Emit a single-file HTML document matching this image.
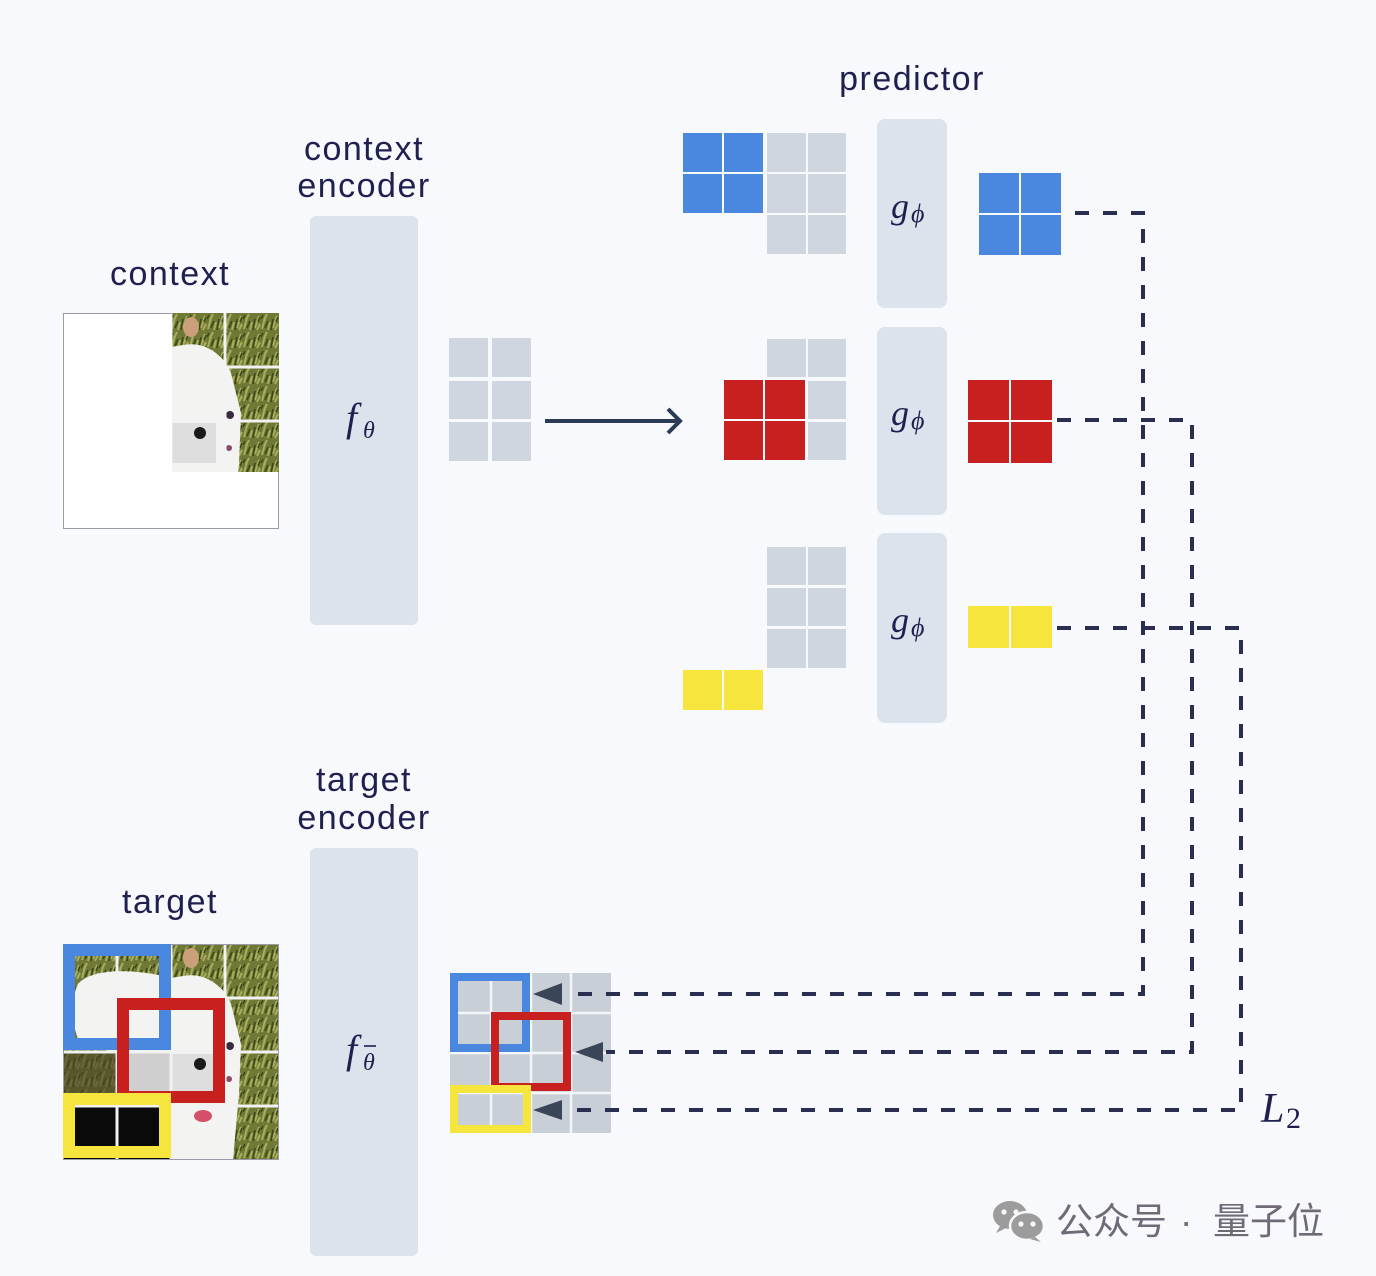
<!DOCTYPE html>
<html><head><meta charset="utf-8"><style>
html,body{margin:0;padding:0;background:#f7f9fc;}
svg{display:block;}
.lbl{font-family:"Liberation Sans","DejaVu Sans",sans-serif;font-size:34px;fill:#1f2050;letter-spacing:1.5px;text-anchor:middle;}
.m{font-family:"Liberation Serif","DejaVu Serif",serif;font-style:italic;fill:#1f2050;}
.wm{font-family:"Liberation Sans","Noto Sans CJK SC",sans-serif;font-size:37px;fill:#6f6a78;}
</style></head><body>
<svg width="1376" height="1276" viewBox="0 0 1376 1276" xmlns="http://www.w3.org/2000/svg">
<defs>
<pattern id="grass" width="18" height="18" patternUnits="userSpaceOnUse">
<rect width="18" height="18" fill="#6f7935"/>
<path d="M1 16 L4 5 M7 17 L9 9 M12 15 L16 3 M3 7 L6 1 M14 17 L17 11" stroke="#a9ae5e" stroke-width="2"/>
<path d="M4 15 L7 8 M10 17 L12 6 M15 9 L17 4 M0 6 L2 2" stroke="#3d4819" stroke-width="1.6"/>
</pattern>
<g id="dog">
<rect x="0" y="0" width="216" height="216" fill="url(#grass)"/>
<path d="M15 40 C30 22 80 26 108 34 L120 32 C140 28 160 40 168 60 L178 100 L176 150 L170 216 L108 216 L108 160 L60 152 L55 108 L18 102 C8 82 8 56 15 40 Z" fill="#f3f3f1"/>
<rect x="0" y="108" width="54" height="54" fill="#4a4426"/>
<rect x="0" y="108" width="54" height="54" fill="url(#grass)" opacity="0.35"/>
<rect x="64" y="108" width="44" height="44" fill="#cfcfcf"/>
<rect x="108" y="110" width="45" height="40" fill="#dedede"/>
<ellipse cx="128" cy="14" rx="8" ry="10" fill="#c9a07a"/>
<circle cx="137" cy="120" r="6" fill="#1a1a1a"/>
<circle cx="167" cy="102" r="4" fill="#3a2a40"/>
<ellipse cx="140" cy="172" rx="9" ry="6" fill="#d4506a"/>
<circle cx="166" cy="135" r="3" fill="#8a4a6a"/>
<rect x="0" y="162" width="108" height="54" fill="#0a0a0a"/>
<path d="M54 0 V216 M108 0 V216 M162 0 V216 M0 54 H216 M0 108 H216 M0 162 H216" stroke="#f2f2f2" stroke-width="3"/>
</g>
<clipPath id="ctxclip"><rect x="109" y="0" width="107" height="159"/></clipPath>
</defs>

<rect width="1376" height="1276" fill="#f7f9fc"/>

<!-- labels -->
<text class="lbl" x="912" y="90">predictor</text>
<text class="lbl" x="364" y="160">context</text>
<text class="lbl" x="364" y="197">encoder</text>
<text class="lbl" x="170" y="285">context</text>
<text class="lbl" x="364" y="791">target</text>
<text class="lbl" x="364" y="829">encoder</text>
<text class="lbl" x="170" y="913">target</text>

<!-- context image -->
<rect x="63.5" y="313.5" width="215" height="215" fill="#ffffff" stroke="#9a9aa8" stroke-width="1"/>
<g transform="translate(63,313)" clip-path="url(#ctxclip)"><use href="#dog"/></g>

<!-- target image -->
<g transform="translate(63,944)"><use href="#dog"/></g>
<rect x="63.5" y="944.5" width="215" height="215" fill="none" stroke="#9a9aa8" stroke-width="1"/>
<rect x="69" y="950" width="96" height="94" fill="none" stroke="#4a87df" stroke-width="12"/>
<rect x="123" y="1004" width="96" height="93" fill="none" stroke="#c8201f" stroke-width="12"/>
<rect x="69" y="1099" width="96" height="53" fill="none" stroke="#f6e53c" stroke-width="12"/>

<!-- encoders -->
<rect x="310" y="216" width="108" height="409" rx="6" fill="#dde3ec"/>
<rect x="310" y="848" width="108" height="408" rx="6" fill="#dde3ec"/>
<text class="m" x="346" y="431" font-size="40">f</text>
<text class="m" x="363" y="438" font-size="24">θ</text>
<text class="m" x="346" y="1063" font-size="40">f</text>
<text class="m" x="363" y="1070" font-size="24">θ</text>
<line x1="364" y1="1046" x2="376" y2="1046" stroke="#1f2050" stroke-width="1.6"/>

<!-- middle context embeddings -->
<g fill="#cfd6df">
<rect x="449" y="338" width="39" height="39"/><rect x="492" y="338" width="39" height="39"/>
<rect x="449" y="381" width="39" height="38"/><rect x="492" y="381" width="39" height="38"/>
<rect x="449" y="422" width="39" height="39"/><rect x="492" y="422" width="39" height="39"/>
</g>
<line x1="545" y1="421" x2="677" y2="421" stroke="#2b3a55" stroke-width="4"/>
<polyline points="668,409 680,421 668,433" fill="none" stroke="#2b3a55" stroke-width="4" stroke-linejoin="miter"/>

<!-- predictor boxes -->
<rect x="877" y="119" width="70" height="189" rx="8" fill="#dde3ec"/>
<rect x="877" y="327" width="70" height="188" rx="8" fill="#dde3ec"/>
<rect x="877" y="533" width="70" height="190" rx="8" fill="#dde3ec"/>
<text class="m" x="891" y="218" font-size="36">g</text><text class="m" x="911" y="222" font-size="26">ϕ</text>
<text class="m" x="891" y="425" font-size="36">g</text><text class="m" x="911" y="429" font-size="26">ϕ</text>
<text class="m" x="891" y="632" font-size="36">g</text><text class="m" x="911" y="636" font-size="26">ϕ</text>

<!-- row 1 -->
<g fill="#4a87df">
<rect x="683" y="133" width="39" height="39"/><rect x="724" y="133" width="39" height="39"/>
<rect x="683" y="174" width="39" height="39"/><rect x="724" y="174" width="39" height="39"/>
<rect x="979" y="173" width="40" height="40"/><rect x="1021" y="173" width="40" height="40"/>
<rect x="979" y="215" width="40" height="40"/><rect x="1021" y="215" width="40" height="40"/>
</g>
<g fill="#cfd6df">
<rect x="767" y="133" width="39" height="39"/><rect x="808" y="133" width="38" height="39"/>
<rect x="767" y="174" width="39" height="39"/><rect x="808" y="174" width="38" height="39"/>
<rect x="767" y="215" width="39" height="39"/><rect x="808" y="215" width="38" height="39"/>
</g>

<!-- row 2 -->
<g fill="#cfd6df">
<rect x="767" y="339" width="39" height="38"/><rect x="808" y="339" width="38" height="38"/>
<rect x="808" y="381" width="38" height="38"/><rect x="808" y="422" width="38" height="38"/>
</g>
<g fill="#c8201f">
<rect x="724" y="380" width="39" height="39"/><rect x="765" y="380" width="40" height="39"/>
<rect x="724" y="421" width="39" height="39"/><rect x="765" y="421" width="40" height="39"/>
<rect x="968" y="380" width="41" height="40"/><rect x="1011" y="380" width="41" height="40"/>
<rect x="968" y="422" width="41" height="41"/><rect x="1011" y="422" width="41" height="41"/>
</g>

<!-- row 3 -->
<g fill="#cfd6df">
<rect x="767" y="547" width="39" height="38"/><rect x="808" y="547" width="38" height="38"/>
<rect x="767" y="588" width="39" height="38"/><rect x="808" y="588" width="38" height="38"/>
<rect x="767" y="629" width="39" height="39"/><rect x="808" y="629" width="38" height="39"/>
</g>
<g fill="#f6e53c">
<rect x="683" y="670" width="39" height="40"/><rect x="724" y="670" width="39" height="40"/>
<rect x="968" y="606" width="41" height="42"/><rect x="1011" y="606" width="41" height="42"/>
</g>

<!-- target embedding grid -->
<rect x="450" y="973" width="161" height="160" fill="#c9cfd7"/>
<path d="M491 973 V1133 M531 973 V1133 M571 973 V1133 M450 1013 H611 M450 1053 H611 M450 1093 H611" stroke="#f4f6f9" stroke-width="2.5"/>
<rect x="454" y="977" width="72" height="71" fill="none" stroke="#4a87df" stroke-width="8"/>
<rect x="495" y="1016" width="72" height="71" fill="none" stroke="#c8201f" stroke-width="8"/>
<rect x="454" y="1089" width="73" height="40" fill="none" stroke="#f6e53c" stroke-width="8"/>
<g fill="#3a4658">
<polygon points="533,994 562,983 562,1005"/>
<polygon points="575,1052 603,1042 603,1062"/>
<polygon points="533,1110 562,1100 562,1120"/>
</g>

<!-- dashed connectors -->
<g fill="none" stroke="#2a2f52" stroke-width="4" stroke-dasharray="14 14">
<path d="M1075 213 H1143 V994 H566"/>
<path d="M1057 420 H1192 V1052 H606"/>
<path d="M1057 628 H1241 V1110 H566"/>
</g>
<text class="m" x="1261" y="1122" font-size="42">L</text>
<text x="1286" y="1128" font-size="30" font-family="Liberation Serif, serif" fill="#1f2050">2</text>

<!-- watermark -->
<g>
<ellipse cx="1010" cy="1215" rx="17" ry="14" fill="#9c9c9c"/>
<circle cx="1004" cy="1212" r="2.6" fill="#f7f9fc"/>
<circle cx="1016" cy="1212" r="2.6" fill="#f7f9fc"/>
<path d="M1000 1226 L996 1233 L1006 1228 Z" fill="#9c9c9c"/>
<ellipse cx="1027" cy="1226" rx="17" ry="14" fill="#9c9c9c" stroke="#f7f9fc" stroke-width="2.5"/>
<circle cx="1021" cy="1224" r="2.6" fill="#f7f9fc"/>
<circle cx="1033" cy="1224" r="2.6" fill="#f7f9fc"/>
<path d="M1035 1237 L1041 1242 L1030 1239 Z" fill="#9c9c9c"/>
</g>
<text class="wm" x="1056" y="1234">公众号</text>
<text class="wm" x="1180" y="1234">·</text>
<text class="wm" x="1213" y="1234">量子位</text>
</svg>
</body></html>
